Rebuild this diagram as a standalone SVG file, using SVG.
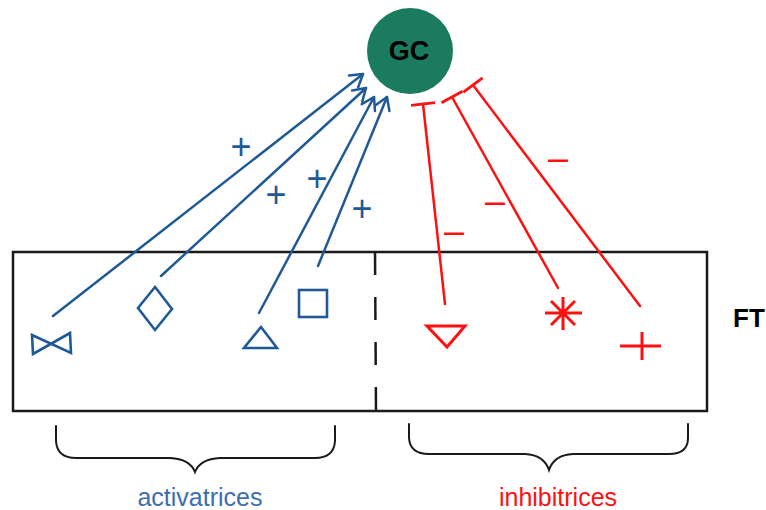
<svg xmlns="http://www.w3.org/2000/svg" width="766" height="510" viewBox="0 0 766 510">
<style>
.blue{stroke:#1f5a96;stroke-width:2.5;fill:none;stroke-linecap:round;stroke-linejoin:round}
.red{stroke:#ff1010;stroke-width:2.5;fill:none;stroke-linecap:round;stroke-linejoin:miter}
.sym-b{stroke:#1f5a96;stroke-width:2.6;fill:none;stroke-linejoin:miter}
.sym-r{stroke:#ff1010;stroke-width:3;fill:none;stroke-linejoin:miter}
.plus{font-family:"Liberation Sans",Arial,sans-serif;font-size:36px;text-anchor:middle;fill:#1f5a96}
.minus{font-family:"Liberation Sans",Arial,sans-serif;font-size:36px;text-anchor:middle;fill:#ff1010}
.brace{stroke:#1a1a1a;stroke-width:2;fill:none;stroke-linecap:round}
.lbl{font-family:"Liberation Sans",Arial,sans-serif;font-size:25px;text-anchor:middle}
</style>
<defs>
<marker id="arr" viewBox="-15 -10 17 20" refX="0" refY="0" markerWidth="17" markerHeight="20" markerUnits="userSpaceOnUse" orient="auto">
<path d="M-12,-7.5 L0,0 L-12,7.5" fill="none" stroke="#1f5a96" stroke-width="2.5" stroke-linecap="round" stroke-linejoin="round"/>
</marker>
<marker id="tee" viewBox="-2 -14 4 28" refX="0" refY="0" markerWidth="4" markerHeight="28" markerUnits="userSpaceOnUse" orient="auto">
<path d="M0,-12 L0,12" stroke="#ff1010" stroke-width="2.8"/>
</marker>
</defs>
<rect width="766" height="510" fill="#ffffff"/>

<g id="FT">
<rect x="13" y="252" width="694" height="159" fill="none" stroke="#1a1a1a" stroke-width="2.5"/>
<line x1="375" y1="252" x2="376" y2="411" stroke="#1a1a1a" stroke-width="2.5" stroke-dasharray="23 22"/>
<text x="733" y="327" font-family="'Liberation Sans',Arial,sans-serif" font-size="26" font-weight="bold" fill="#000">FT</text>
</g>

<g id="GC">
<circle cx="410" cy="51" r="43" fill="#1b7b5f"/>
<text x="409" y="60" font-family="'Liberation Sans',Arial,sans-serif" font-size="27" font-weight="bold" text-anchor="middle" fill="#000">GC</text>
</g>

<g id="connectors">
<line class="blue" x1="53" y1="316" x2="363" y2="74" marker-end="url(#arr)"/>
<line class="blue" x1="161" y1="276" x2="366" y2="88" marker-end="url(#arr)"/>
<line class="blue" x1="259" y1="313" x2="374" y2="97" marker-end="url(#arr)"/>
<line class="blue" x1="318" y1="266" x2="387" y2="97" marker-end="url(#arr)"/>
<line class="red" x1="445" y1="304" x2="423" y2="104" marker-end="url(#tee)"/>
<line class="red" x1="558" y1="288" x2="452" y2="97" marker-end="url(#tee)"/>
<line class="red" x1="640" y1="306" x2="473" y2="85" marker-end="url(#tee)"/>
<text class="plus" x="241" y="159">+</text>
<text class="plus" x="276" y="207">+</text>
<text class="plus" x="317" y="191">+</text>
<text class="plus" x="362" y="221">+</text>
<text class="minus" x="558" y="170">–</text>
<text class="minus" x="495" y="213">–</text>
<text class="minus" x="454" y="243">–</text>
</g>

<g id="bowtie"><path class="sym-b" d="M32,335 L71,353 L70,333 L33,354 Z"/></g>
<g id="diamond"><path class="sym-b" d="M155,287 L172,309 L155,330 L138,308 Z"/></g>
<g id="triangle"><path class="sym-b" d="M261,327 L277,348 L244,348 Z"/></g>
<g id="square"><rect class="sym-b" x="299" y="290" width="28" height="27"/></g>
<g id="downtriangle"><path class="sym-r" d="M427,326 L465,326 L447,347 Z"/></g>
<g id="asterisk"><path class="sym-r" d="M545,313 L582,313 M563,297 L563,330 M551,301 L575,325 M575,301 L551,325"/></g>
<g id="cross"><path class="sym-r" d="M620,346 L661,346 M642,332 L642,360"/></g>

<g id="activatrices">
<path class="brace" d="M56,426 L56,441 Q57,458 76,458 L170,458 Q190,459 195,472 Q200,459 220,458 L315,458 Q334,458 335,441 L335,426"/>
<text class="lbl" x="200" y="506" fill="#3b6fb0">activatrices</text>
</g>
<g id="inhibitrices">
<path class="brace" d="M409,424 L409,438 Q410,454 429,454 L525,454 Q544,455 549,470 Q554,455 573,454 L669,454 Q688,454 688,438 L688,424"/>
<text class="lbl" x="558" y="506" fill="#ff1010">inhibitrices</text>
</g>
</svg>
